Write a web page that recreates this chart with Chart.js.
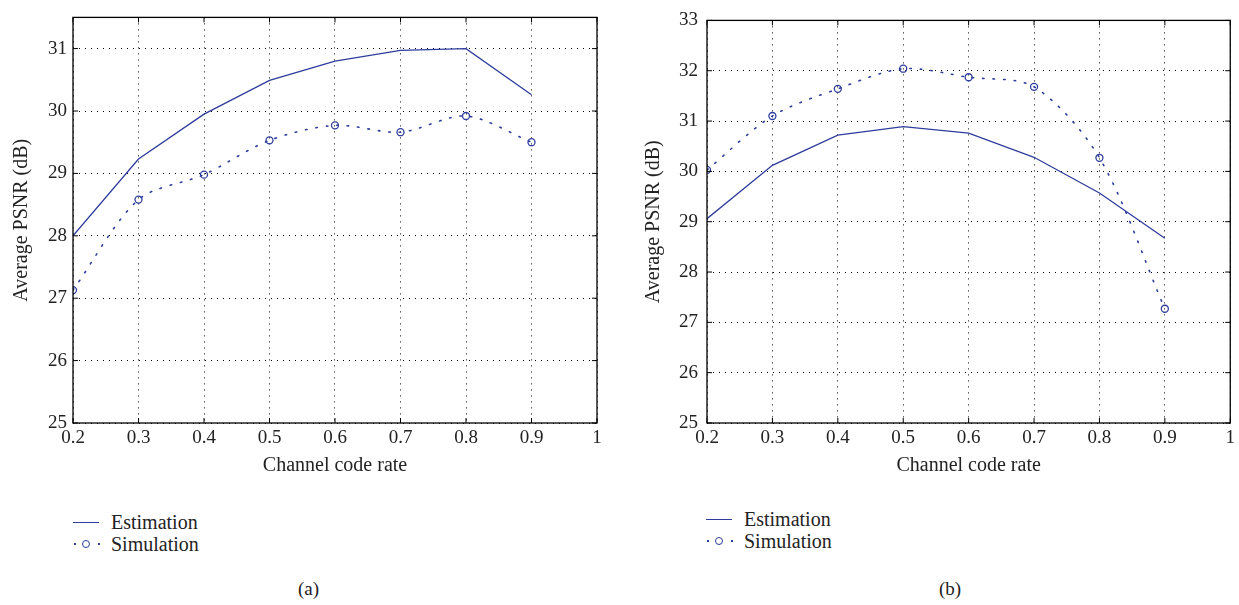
<!DOCTYPE html>
<html>
<head>
<meta charset="utf-8">
<script src="https://cdn.jsdelivr.net/npm/chart.js@4.4.1/dist/chart.umd.min.js"></script>
<style>
  body { margin: 0; background: #fff; width: 1239px; height: 605px; position: relative; overflow: hidden;
         font-family: "Liberation Serif", "DejaVu Serif", serif; color: #222; }
  .box { position: absolute; top: 0; height: 480px; }
  .legend { position: absolute; font-size: 20px; line-height: 22px; }
  .row { position: relative; height: 22px; padding-left: 38px; }
  .solid { position: absolute; left: 0; top: 11px; width: 26px; border-top: 1.3px solid #2e3d9c; }
  .dot { position: absolute; top: 10px; width: 2px; height: 2px; background: #2e3d9c; }
  .circ { position: absolute; top: 7px; width: 6px; height: 6px; border: 1.3px solid #2e3d9c; border-radius: 50%; }
  .cap { position: absolute; top: 578px; font-size: 19px; }
</style>
</head>
<body>
<div class="box" style="left:0;width:620px"><canvas id="chartA"></canvas></div>
<div class="box" style="left:630px;width:609px"><canvas id="chartB"></canvas></div>

<div class="legend" style="left:73px;top:511px">
  <div class="row"><span class="solid"></span>Estimation</div>
  <div class="row"><span class="dot" style="left:1px"></span><span class="circ" style="left:9px"></span><span class="dot" style="left:25px"></span>Simulation</div>
</div>
<div class="legend" style="left:706px;top:508px">
  <div class="row"><span class="solid"></span>Estimation</div>
  <div class="row"><span class="dot" style="left:1px"></span><span class="circ" style="left:9px"></span><span class="dot" style="left:25px"></span>Simulation</div>
</div>
<div class="cap" style="left:298px">(a)</div>
<div class="cap" style="left:939px">(b)</div>

<script>
// channel code rates
const rates = [0.2, 0.3, 0.4, 0.5, 0.6, 0.7, 0.8, 0.9];
const xTicks = [0.2, 0.3, 0.4, 0.5, 0.6, 0.7, 0.8, 0.9, 1];

// (a)
const estA = [28.0, 29.23, 29.95, 30.49, 30.80, 30.97, 31.0, 30.26];
const simA = [27.13, 28.58, 28.98, 29.53, 29.77, 29.66, 29.92, 29.5];
// (b)
const estB = [29.06, 30.12, 30.72, 30.89, 30.76, 30.28, 29.57, 28.67];
const simB = [30.03, 31.10, 31.64, 32.04, 31.87, 31.68, 30.27, 27.27];

const blue = '#2e3d9c';
const fontFam = '"Liberation Serif", "DejaVu Serif", serif';

// box round the plot + short inward tick marks like matlab
const frame = {
  id: 'frame',
  afterDraw(chart) {
    const { ctx, chartArea: a, scales } = chart;
    ctx.save();
    ctx.strokeStyle = '#000';
    ctx.lineWidth = 1.3;
    ctx.strokeRect(a.left, a.top, a.right - a.left, a.bottom - a.top);
    ctx.lineWidth = 1;
    ctx.beginPath();
    scales.x.ticks.forEach(t => {
      const px = scales.x.getPixelForValue(t.value);
      ctx.moveTo(px, a.bottom); ctx.lineTo(px, a.bottom - 5);
      ctx.moveTo(px, a.top); ctx.lineTo(px, a.top + 5);
    });
    scales.y.ticks.forEach(t => {
      const py = scales.y.getPixelForValue(t.value);
      ctx.moveTo(a.left, py); ctx.lineTo(a.left + 5, py);
      ctx.moveTo(a.right, py); ctx.lineTo(a.right - 5, py);
    });
    ctx.stroke();
    ctx.restore();
  }
};

function makeChart(id, est, sim, yMax, yWidth, padRight, titlePad, tickPad) {
  const toXY = arr => arr.map((v, i) => ({ x: rates[i], y: v }));
  return new Chart(document.getElementById(id), {
    type: 'line',
    data: {
      datasets: [
        {
          label: 'Estimation',
          data: toXY(est),
          borderColor: blue,
          borderWidth: 1.3,
          pointRadius: 0,
          tension: 0,
          fill: false
        },
        {
          label: 'Simulation',
          data: toXY(sim),
          borderColor: blue,
          borderWidth: 1.6,
          borderDash: [1.5, 9],
          borderCapStyle: 'round',
          pointRadius: 3.5,
          pointBorderWidth: 1.3,
          pointBorderColor: blue,
          pointBackgroundColor: 'rgba(0,0,0,0)',
          tension: 0.3,
          fill: false
        }
      ]
    },
    options: {
      responsive: true,
      maintainAspectRatio: false,
      animation: false,
      layout: { padding: { top: 10, right: padRight, bottom: 0, left: 0 } },
      plugins: { legend: { display: false }, tooltip: { enabled: false } },
      scales: {
        x: {
          type: 'linear',
          min: 0.2,
          max: 1,
          afterBuildTicks: s => { s.ticks = xTicks.map(v => ({ value: v })); },
          afterFit: s => { s.height = 57; },
          border: { display: false, dash: [1, 5] },
          grid: { color: '#000', lineWidth: 1, drawTicks: false },
          ticks: {
            padding: 4,
            color: '#222',
            font: { family: fontFam, size: 19 },
            callback: v => String(Number(v.toFixed(1)))
          },
          title: {
            display: true,
            text: 'Channel code rate',
            color: '#222',
            font: { family: fontFam, size: 20 },
            padding: { top: 0, bottom: 2 }
          }
        },
        y: {
          min: 25,
          max: yMax,
          afterFit: s => { s.width = yWidth; },
          border: { display: false, dash: [1, 5] },
          grid: { color: '#000', lineWidth: 1, drawTicks: false },
          ticks: {
            stepSize: 1,
            includeBounds: false,
            padding: tickPad,
            color: '#222',
            font: { family: fontFam, size: 19 }
          },
          title: {
            display: true,
            text: 'Average PSNR (dB)',
            color: '#222',
            font: { family: fontFam, size: 20 },
            padding: { top: titlePad, bottom: 0 }
          }
        }
      }
    },
    plugins: [frame]
  });
}

makeChart('chartA', estA, simA, 31.5, 73, 23, 10, 6);
makeChart('chartB', estB, simB, 33, 77, 8, 12, 9);
</script>
</body>
</html>
